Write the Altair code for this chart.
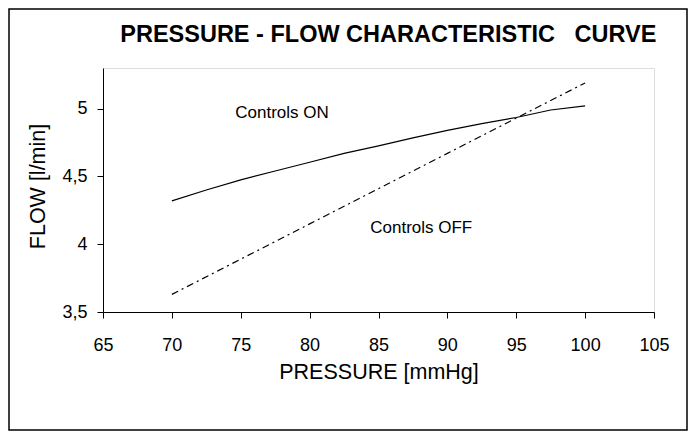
import altair as alt
import pandas as pd

# Controls ON curve
pressure_on = [70, 72.5, 75, 77.5, 80, 82.5, 85, 87.5, 90, 92.5, 95, 97.5, 100]
flow_on = [4.32, 4.40, 4.475, 4.54, 4.605, 4.67, 4.725, 4.785, 4.84, 4.89, 4.935, 4.99, 5.02]

# Controls OFF line
pressure_off = [70, 80, 90, 100]
flow_off = [3.63, 4.15, 4.67, 5.19]

x_ticks = [65, 70, 75, 80, 85, 90, 95, 100, 105]
y_ticks = [3.5, 4, 4.5, 5]

label_text = ["Controls ON", "Controls OFF"]
label_x = [74.6, 84.4]
label_y = [4.97, 4.12]

FONT = "Liberation Sans, Arial, sans-serif"

df_on = pd.DataFrame({"p": pressure_on, "f": flow_on})
df_off = pd.DataFrame({"p": pressure_off, "f": flow_off})
df_lab = pd.DataFrame({"t": label_text, "p": label_x, "f": label_y})

xscale = alt.Scale(domain=[65, 105], nice=False, zero=False)
yscale = alt.Scale(domain=[3.5, 5.3], nice=False, zero=False)

xaxis = alt.Axis(
    values=x_ticks, title="PRESSURE [mmHg]", grid=False,
    domainColor="black", tickColor="black", tickSize=6,
    labelFont=FONT, labelFontSize=18, labelColor="black", labelPadding=18,
    titleFont=FONT, titleFontSize=21.5, titleFontWeight="normal", titleColor="black",
    titleY=66, titleBaseline="alphabetic", labelFlush=False,
)
yaxis = alt.Axis(
    values=y_ticks, title="FLOW [l/min]", grid=False,
    domainColor="black", tickColor="black", tickSize=6,
    labelFont=FONT, labelFontSize=18, labelColor="black", labelPadding=10,
    labelExpr="replace(format(datum.value, '~g'), '.', ',')",
    titleFont=FONT, titleFontSize=21.5, titleFontWeight="normal", titleColor="black",
    titleX=-65, titleY=118, titleAngle=-90, titleBaseline="middle", titleAlign="center",
    labelFlush=False,
)

x = alt.X("p:Q", scale=xscale, axis=xaxis)
y = alt.Y("f:Q", scale=yscale, axis=yaxis)

border = alt.Chart(pd.DataFrame({"a": [0]})).mark_rect(
    fill="transparent", stroke="black", strokeWidth=1.5, clip=False
).encode(
    x=alt.value(-94), x2=alt.value(584), y=alt.value(-59), y2=alt.value(362)
)

on_line = alt.Chart(df_on).mark_line(color="black", strokeWidth=1.2).encode(x=x, y=y)
off_line = alt.Chart(df_off).mark_line(
    color="black", strokeWidth=1.2, strokeDash=[7, 4, 2, 4]
).encode(x=x, y=y)

labels = alt.Chart(df_lab).mark_text(
    font=FONT, fontSize=17, color="black", align="left", baseline="middle"
).encode(x=x, y=y, text="t:N")

chart = alt.layer(border, on_line, off_line, labels).properties(
    width=551,
    height=244,
    padding={"left": 95, "top": 60, "right": 35, "bottom": 122},
    autosize=alt.AutoSizeParams(type="none"),
    title=alt.Title(
        "PRESSURE - FLOW CHARACTERISTIC\u00a0\u00a0 CURVE",
        anchor="start", dx=112, dy=57, offset=0, baseline="alphabetic",
        font=FONT, fontSize=23.5, fontWeight="bold", color="black",
    ),
).configure_view(stroke="#808080", strokeWidth=1).configure(background="white")

chart.save("out.html", embed_options={"renderer": "svg", "actions": False})
